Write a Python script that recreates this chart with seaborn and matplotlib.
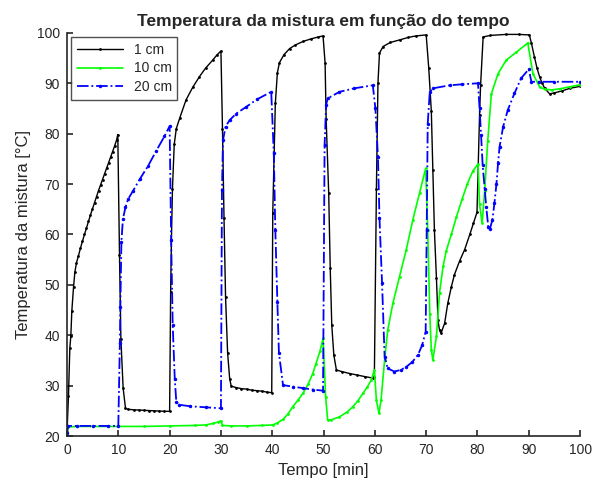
import numpy as np
import pandas as pd
import matplotlib
matplotlib.use("Agg")
import matplotlib.pyplot as plt
import seaborn as sns

# values (time in min, temperature in degC)
t_1cm = [0, 0.29, 0.55, 0.75, 0.94, 1.27, 1.53, 1.85, 2.24, 2.63, 3.02, 3.41, 3.80, 4.19,
         4.58, 4.97, 5.36, 5.75, 6.14, 6.53, 6.92, 7.31, 7.70, 8.09, 8.48, 8.87, 9.26, 9.65, 9.90,
         10.23, 10.5, 10.94, 11.4, 11.9, 13, 14, 15, 16, 17, 18, 19, 20.0,
         20.2, 20.35, 20.55, 20.9, 21.3, 22, 23.2, 24.5, 25.8, 27, 28.4, 29.2, 30,
         30.3, 30.6, 30.9, 31.3, 31.7, 32, 33, 34, 35, 36, 37, 38, 39, 39.9,
         40.1, 40.6, 41, 41.4, 42.3, 43.4, 44.5, 46, 47.5, 49, 49.9,
         50.3, 50.5, 51, 51.3, 51.6, 52, 52.5, 53.5, 55.1, 56.5, 58, 59.6, 59.9,
         60.3, 60.6, 60.9, 61.6, 63, 64.8, 66.5, 68, 70,
         70.5, 71, 71.3, 71.6, 72, 72.3, 72.6, 72.9, 73.6, 74.2, 74.9, 75.5, 76.5, 77.5, 78.5, 79.2, 79.9,
         80.4, 80.6, 81.1, 82.5, 85.6, 88, 90.1,
         90.5, 91.1, 91.6, 92.1, 92.6, 93.1, 94.05, 95, 96.5, 98, 100]
T_1cm = [20.7, 28.0, 37.4, 39.9, 44.8, 49.5, 52.5, 54.4, 55.8, 57.3, 58.7, 60.0, 61.3, 62.6,
         63.9, 65.1, 66.3, 67.5, 68.7, 69.8, 70.9, 72.0, 73.1, 74.2, 75.3, 76.4, 77.5, 78.7, 79.8,
         56, 39.3, 29.5, 25.5, 25.3, 25.2, 25.15, 25.1, 25.05, 25.0, 24.95, 24.9, 24.9,
         48.6, 58.8, 69, 77.9, 81, 83.2, 86.7, 89.2, 91.3, 93, 94.6, 95.6, 96.4,
         81, 63.2, 47.6, 36.5, 31.4, 29.9, 29.6, 29.4, 29.3, 29.1, 29.0, 28.9, 28.7, 28.6,
         64.2, 86, 92.1, 94.1, 95.7, 96.9, 97.6, 98.3, 98.8, 99.2, 99.4,
         94, 83, 68.2, 53.3, 42, 36.1, 33.1, 32.8, 32.4, 32.1, 31.8, 31.5, 31.8,
         69.1, 90, 96, 97.3, 98.1, 98.6, 99.1, 99.4, 99.6,
         93, 84.5, 72.8, 60.9, 51.3, 43, 41, 40.4, 42.4, 46.3, 49.6, 52, 54.7, 57, 60, 62.2, 64.4,
         83.7, 89.6, 99.2, 99.5, 99.7, 99.7, 99.6,
         98, 95.2, 93, 91.3, 90, 89, 87.9, 88.1, 88.5, 89.0, 89.4]

t_10cm = [0, 0.2, 2, 5, 10, 15, 20, 25, 27, 28.5, 29.5, 30, 30.3, 32, 35, 38,
          40.1, 41, 42.1, 43, 44, 45, 46, 47, 47.9, 48.5, 49.3, 49.9,
          50.4, 50.8, 51.5, 53.1, 54.5, 55.7, 56.7, 57.7, 58.5, 59.3, 59.9,
          60.3, 60.8, 61.2, 61.9, 62.5, 63.5, 64.8, 66.1, 67.4, 68.7, 69.9,
          70.3, 70.7, 71.0, 71.3, 72.0, 72.6, 73.3, 73.9, 74.9, 75.9, 77, 78, 79.1, 80.1,
          80.4, 80.9, 81.4, 82, 82.7, 84, 85.6, 87.6, 89.8,
          90.8, 92.1, 93.1, 94.5, 96, 98, 100]
T_10cm = [20.5, 21.8, 21.9, 21.9, 21.9, 21.9, 22.0, 22.1, 22.2, 22.5, 22.8, 23.0, 22.1, 22.0, 22.0, 22.1,
          22.2, 22.6, 23.3, 24.3, 25.8, 27.1, 28.5, 30.3, 32.4, 34.3, 36.8, 39.4,
          27.8, 23.2, 23.2, 23.8, 24.7, 25.8, 27.0, 28.5, 29.7, 31.1, 33.1,
          27.1, 24.5, 27.1, 35.1, 41, 46.3, 51.6, 56.9, 62.9, 68.2, 73.1,
          60.9, 44.3, 37.1, 35.1, 39.8, 48.4, 53.7, 56.7, 60, 63.5, 67, 70, 72.6, 74,
          66, 62.2, 68.7, 78.6, 87.9, 91.9, 94.6, 96.2, 98,
          91.9, 89.3, 88.8, 88.7, 88.9, 89.3, 89.7]

t_20cm = [0, 0.2, 2, 5, 8, 10.0, 10.3, 10.4, 10.6, 10.9, 11.4, 11.9, 12.9, 14.2, 15.8, 17.4, 19, 20,
          20.3, 20.6, 21, 21.3, 21.9, 24, 27, 30,
          30.2, 30.4, 30.9, 31.7, 33, 34.9, 37, 39.8,
          40.3, 40.6, 41, 41.3, 42.1, 44, 46, 48, 49.9,
          50.2, 50.5, 50.8, 53.1, 56, 59.6,
          60.1, 60.6, 60.9, 61.4, 61.9, 62.5, 63.8, 65, 66.1, 67.3, 68.4, 69.2, 69.9,
          70.1, 70.3, 70.7, 71.3, 74.6, 77, 80.1,
          80.4, 80.7, 81, 81.4, 81.7, 82.1, 82.4, 82.9, 83.3, 83.7, 84, 84.3, 85, 85.9, 87.2, 88.5, 90,
          90.5, 92, 95, 100]
T_20cm = [20.5, 22.0, 22.0, 22.0, 22.0, 22.0, 38.4, 45.7, 58.5, 63.1, 65.4, 67, 68.7, 71, 73.6, 76.6, 79.5, 81.5,
          58.9, 42, 31.4, 26.8, 26.2, 25.9, 25.7, 25.5,
          68.8, 78.7, 81.4, 82.7, 84, 85.3, 86.8, 88.3,
          76.1, 60.9, 46.6, 36.5, 30.1, 29.8, 29.5, 29.2, 29.0,
          77.7, 85.7, 87, 88.3, 89, 89.6,
          85, 75.4, 63.2, 50.3, 35.7, 33.4, 32.8, 33.1, 33.7, 34.7, 36.1, 38, 40.7,
          60.9, 82, 88.3, 89, 89.6, 89.8, 90,
          85, 79.7, 73.8, 69.1, 65.5, 61.5, 61, 62.9, 66.2, 70.1, 74.1, 77.4, 81.4, 84.7, 88, 91, 92.8,
          90.3, 90.3, 90.3, 90.3]

labels = ["1 cm", "10 cm", "20 cm"]
colors = ["#000000", "#00ff00", "#0000ff"]
styles = ["-", "-", "-."]

sns.set_theme(style="ticks")
plt.rcParams["font.family"] = ["Liberation Sans", "DejaVu Sans"]

fig = plt.figure(figsize=(5.95, 4.91), dpi=100)
ax = fig.add_axes([0.1126, 0.112, 0.8624, 0.821])

series = [(t_1cm, T_1cm), (t_10cm, T_10cm), (t_20cm, T_20cm)]
lws = [1.0, 1.2, 1.3]
msz = [4, 4, 5]
for (t, T), lab, c, ls, lw, ms in zip(series, labels, colors, styles, lws, msz):
    df = pd.DataFrame({"t": t, "T": T})
    sns.lineplot(data=df, x="t", y="T", ax=ax, sort=False, estimator=None,
                 color=c, linestyle=ls, linewidth=lw, marker=".", markersize=ms,
                 markeredgewidth=0, label=lab)

ax.set_xlim(0, 100)
ax.set_ylim(20, 100)
ax.set_xticks(np.arange(0, 101, 10))
ax.set_yticks(np.arange(20, 101, 10))
ax.tick_params(direction="in", length=4, width=1.2, colors="#262626", labelsize=10, pad=5)
for s in ["left", "bottom"]:
    ax.spines[s].set_color("#262626")
    ax.spines[s].set_linewidth(1.2)
sns.despine(ax=ax)

ax.set_title("Temperatura da mistura em função do tempo", fontsize=12.5, fontweight="bold", pad=5)
ax.set_xlabel("Tempo [min]", fontsize=12, color="#262626")
ax.set_ylabel("Temperatura da mistura [°C]", fontsize=12, color="#262626")

leg = ax.legend(loc="upper left", fontsize=10, frameon=True, fancybox=False,
                edgecolor="#262626", borderaxespad=0.3, handlelength=3.3,
                labelspacing=0.35)
leg.get_frame().set_linewidth(1.0)

fig.savefig("out.png", dpi=100)
